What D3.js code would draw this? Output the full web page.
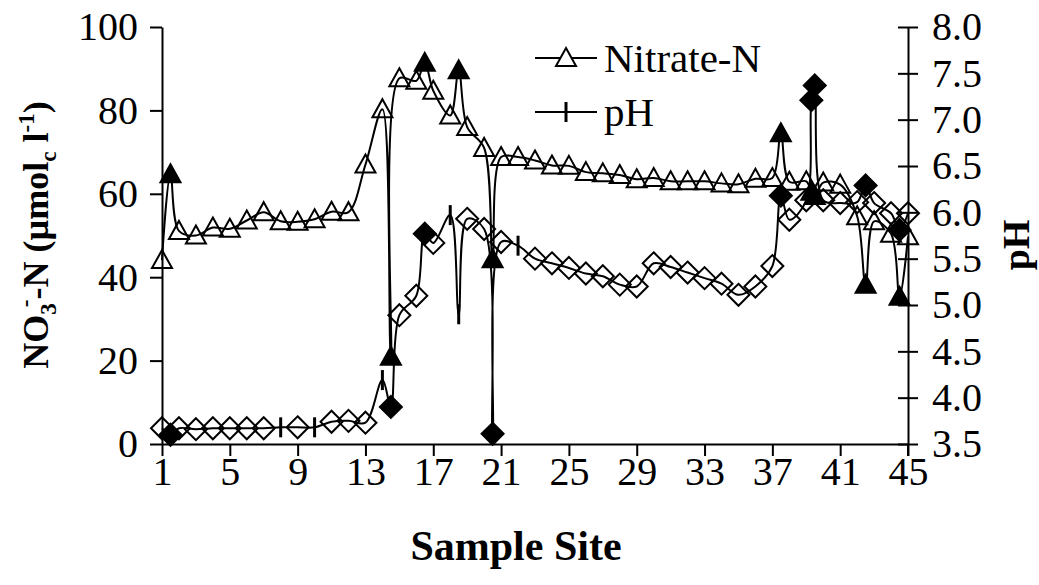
<!DOCTYPE html>
<html><head><meta charset="utf-8">
<script src="https://cdn.jsdelivr.net/npm/d3@7"></script>
<style>html,body{margin:0;padding:0;background:#fff;}svg{display:block;}</style>
</head><body>
<svg id="chart" width="1039" height="585"></svg>
<script>
// ---- data ----
const nitrateSites = [1,1.5,2,3,4,5,6,7,8,9,10,11,12,13,14,14.5,15,16,16.5,17,18,18.5,19,20,20.5,21,22,23,24,25,26,27,28,29,30,31,32,33,34,35,36,37,37.5,38,39,39.3,39.5,40,41,42,42.5,43,44,44.5,45];
const nitrateValues = [44.1,64.7,51.1,50.0,51.9,51.6,53.6,55.6,53.4,53.3,53.9,55.7,55.6,67.0,80.3,20.9,87.7,87.1,91.4,84.7,78.8,89.6,76.0,71.0,44.3,68.8,68.8,68.0,66.8,66.7,65.2,64.9,64.5,63.5,63.8,63.0,63.0,63.0,62.5,62.3,63.6,63.8,74.5,62.9,63.0,60.5,59.5,62.7,62.2,54.6,38.2,53.4,50.4,35.3,49.8];
const nitrateFilled = [0,1,0,0,0,0,0,0,0,0,0,0,0,0,0,1,0,0,1,0,0,1,0,0,1,0,0,0,0,0,0,0,0,0,0,0,0,0,0,0,0,0,1,0,0,1,1,0,0,0,1,0,0,1,0];

const phSites = [1,1.5,2,3,4,5,6,7,8,9,10,11,12,13,14,14.5,15,16,16.5,17,18,18.5,19,20,20.5,21,22,23,24,25,26,27,28,29,30,31,32,33,34,35,36,37,37.5,38,39,39.3,39.5,40,41,42,42.5,43,44,44.5,45];
const phValues = [3.67,3.60,3.67,3.66,3.67,3.67,3.67,3.67,3.68,3.68,3.68,3.74,3.75,3.73,4.19,3.90,4.89,5.10,5.77,5.67,5.97,4.90,5.93,5.82,3.61,5.68,5.64,5.50,5.45,5.40,5.34,5.31,5.22,5.20,5.45,5.41,5.35,5.29,5.23,5.11,5.20,5.42,6.18,5.92,6.13,7.21,7.37,6.13,6.10,6.11,6.29,6.10,5.99,5.81,5.99];
// marker kind per pH point: "d" open diamond, "D" filled diamond, "|" plain series marker
const phMarker = ["d","D","d","d","d","d","d","d","|","d","|","d","d","d","|","D","d","d","D","d","|","|","d","d","D","d","|","d","d","d","d","d","d","d","d","d","d","d","d","d","d","d","D","d","d","D","D","d","d","d","D","d","d","D","d"];

const xTicks = [1,5,9,13,17,21,25,29,33,37,41,45];
const leftTicks = [0,20,40,60,80,100];
const rightTicks = [3.5,4.0,4.5,5.0,5.5,6.0,6.5,7.0,7.5,8.0];
const seriesNames = ["Nitrate-N","pH"];

// ---- layout ----
const svg = d3.select("#chart");
const FONT = "'Liberation Serif','Times New Roman',serif";
const L = 162, R = 908, T = 27, B = 444;
const x = d3.scaleLinear().domain([1,45]).range([L,R]);
const yL = d3.scaleLinear().domain([0,100]).range([B,T]);
const yR = d3.scaleLinear().domain([3.5,8]).range([B,T]);

svg.append("rect").attr("width",1039).attr("height",585).attr("fill","#fff");

function styleAxis(g){
  g.selectAll("path.domain").attr("stroke","#000").attr("stroke-width",2);
  g.selectAll(".tick line").attr("stroke","#000").attr("stroke-width",2);
  g.selectAll(".tick text").attr("font-family",FONT).attr("font-size",40).attr("fill","#000");
}

// x axis
const gx = svg.append("g").attr("transform",`translate(0,${B})`)
  .call(d3.axisBottom(x).tickValues(xTicks).tickSize(12).tickSizeOuter(0).tickPadding(1).tickFormat(d3.format("d")));
styleAxis(gx);

// left axis
const gl = svg.append("g").attr("transform",`translate(${L},0)`)
  .call(d3.axisLeft(yL).tickValues(leftTicks).tickSize(12).tickSizeOuter(0).tickPadding(12));
styleAxis(gl);

// right axis (ticks cross)
const gr = svg.append("g").attr("transform",`translate(${R},0)`)
  .call(d3.axisRight(yR).tickValues(rightTicks).tickSize(10).tickSizeOuter(0).tickPadding(14).tickFormat(d3.format(".1f")));
gr.selectAll(".tick").append("line").attr("x1",-10).attr("x2",0);
styleAxis(gr);
svg.append("line").attr("x1",R).attr("x2",R).attr("y1",B).attr("y2",B+12).attr("stroke","#000").attr("stroke-width",2);

// ---- lines ----
const curve = d3.curveCatmullRom.alpha(0.5);
const nitrateData = nitrateSites.map((s,i)=>({s, v:nitrateValues[i], f:nitrateFilled[i]}));
const phData = phSites.map((s,i)=>({s, v:phValues[i], m:phMarker[i]}));

svg.append("path").datum(nitrateData)
  .attr("d", d3.line().x(d=>x(d.s)).y(d=>yL(d.v)).curve(curve))
  .attr("fill","none").attr("stroke","#000").attr("stroke-width",2);
svg.append("path").datum(phData)
  .attr("d", d3.line().x(d=>x(d.s)).y(d=>yR(d.v)).curve(curve))
  .attr("fill","none").attr("stroke","#000").attr("stroke-width",2);

const triPath = "M0,-10L10,8L-10,8Z";
const diaPath = "M0,-11L11,0L0,11L-11,0Z";

svg.append("g").selectAll("path").data(nitrateData).join("path")
  .attr("transform",d=>`translate(${x(d.s)},${yL(d.v)})`)
  .attr("d",triPath)
  .attr("fill",d=>d.f?"#000":"none")
  .attr("stroke","#000").attr("stroke-width",2);

const pm = svg.append("g").selectAll("g").data(phData).join("g")
  .attr("transform",d=>`translate(${x(d.s)},${yR(d.v)})`);
pm.filter(d=>d.m!=="|").append("path").attr("d",diaPath)
  .attr("fill",d=>d.m==="D"?"#000":"none").attr("stroke","#000").attr("stroke-width",2);
pm.filter(d=>d.m==="|").append("line").attr("y1",-10).attr("y2",10)
  .attr("stroke","#000").attr("stroke-width",3);

// ---- legend ----
const lg = svg.append("g");
const legY = [58,112];
seriesNames.forEach((name,i)=>{
  lg.append("line").attr("x1",535).attr("x2",597).attr("y1",legY[i]).attr("y2",legY[i]).attr("stroke","#000").attr("stroke-width",2);
  if(i===0){
    lg.append("path").attr("transform",`translate(566,${legY[i]})`).attr("d",triPath).attr("fill","#fff").attr("stroke","#000").attr("stroke-width",2);
  } else {
    lg.append("line").attr("x1",566).attr("x2",566).attr("y1",legY[i]-10).attr("y2",legY[i]+10).attr("stroke","#000").attr("stroke-width",3);
  }
  lg.append("text").attr("x",604).attr("y",legY[i]).attr("dy","0.35em")
    .attr("font-family",FONT).attr("font-size",41).text(name);
});

// ---- axis titles ----
svg.append("text").attr("x",516).attr("y",545).attr("dy","0.35em").attr("text-anchor","middle")
  .attr("font-family",FONT).attr("font-size",42).attr("font-weight","bold").text("Sample Site");

svg.append("text").attr("transform","translate(1016,245) rotate(-90)").attr("dy","0.35em").attr("text-anchor","middle")
  .attr("font-family",FONT).attr("font-size",38).attr("font-weight","bold").text("pH");

const lt = svg.append("text").attr("transform","translate(35,235) rotate(-90)").attr("dy","0.35em").attr("text-anchor","middle")
  .attr("font-family",FONT).attr("font-size",36).attr("font-weight","bold");
lt.append("tspan").text("NO");
lt.append("tspan").attr("font-size",23).attr("dy",8).text("3");
lt.append("tspan").attr("font-size",23).attr("dx",-4).attr("dy",-23).text("-");
lt.append("tspan").attr("dy",15).text("-N (µmol");
lt.append("tspan").attr("font-size",23).attr("dy",8).text("c");
lt.append("tspan").attr("dy",-8).text(" l");
lt.append("tspan").attr("font-size",23).attr("dy",-14).text("-1");
lt.append("tspan").attr("dy",14).text(")");
</script>
</body></html>
